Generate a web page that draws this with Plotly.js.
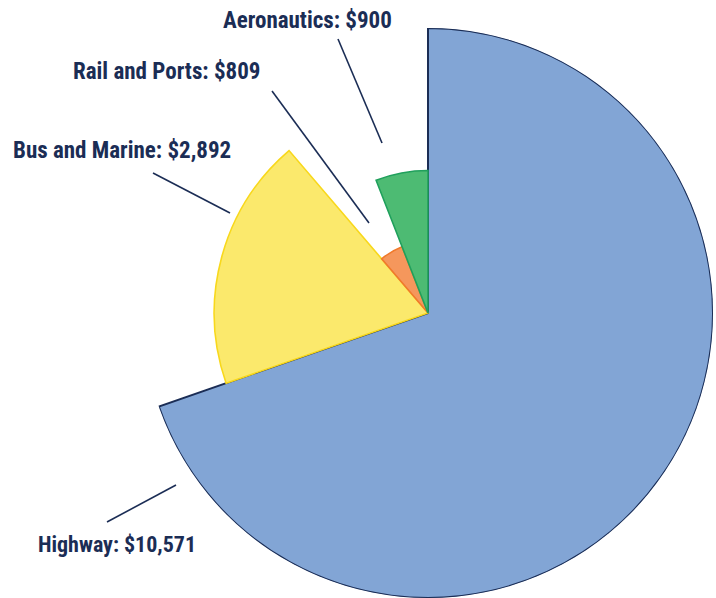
<!DOCTYPE html>
<html>
<head>
<meta charset="utf-8">
<script src="https://cdn.plot.ly/plotly-3.0.1.min.js"></script>
<style>html,body{margin:0;padding:0;background:#fff;}#chart{width:716px;height:598px;}</style>
</head>
<body>
<div id="chart"></div>
<script>
// Data
const categories = ["Highway", "Bus and Marine", "Rail and Ports", "Aeronautics"];
const values = [10571, 2892, 809, 900];
const valueLabels = ["$10,571", "$2,892", "$809", "$900"];
const radius = [1.0, 0.75, 0.25, 0.5];
const fillColors = ["#82A5D5", "#FBE96C", "#F5975C", "#4DBB73"];
const lineColors = ["#1B2D55", "#F8D81C", "#F07A2C", "#20A05C"];

const total = values.reduce((a, b) => a + b, 0);
const widths = values.map(v => v / total * 360);
const thetas = [];
let acc = 0;
widths.forEach(w => { thetas.push(acc + w / 2); acc += w; });

const W = 716, H = 598;
const px = x => x / W;
const py = y => 1 - y / H;

const fontFamily = "Liberation Sans Narrow, Roboto Condensed, Arial Narrow, sans-serif";
const fontSizes = [22, 23, 23, 23];

// label positions (pixels) and leader lines
const labelPos = [[36, 544], [11, 150], [71, 71], [221, 21]];
const leaders = [[[107, 522], [176, 485]], [[153, 173], [230, 213]], [[272, 91], [369, 223]], [[338, 39], [382, 143]]];

const annotations = categories.map((c, i) => ({
  xref: "paper", yref: "paper", x: px(labelPos[i][0]), y: py(labelPos[i][1]),
  xanchor: "left", yanchor: "middle", showarrow: false,
  text: c + ": " + valueLabels[i],
  font: {family: fontFamily, size: fontSizes[i], color: "#1B2D55", weight: 700}
}));
const shapes = leaders.map(l => ({
  type: "line", xref: "paper", yref: "paper",
  x0: px(l[0][0]), y0: py(l[0][1]), x1: px(l[1][0]), y1: py(l[1][1]),
  line: {color: "#1B2D55", width: 1.6}
}));

const trace = {
  type: "barpolar",
  r: radius,
  theta: thetas,
  width: widths,
  text: categories,
  marker: {color: fillColors, line: {color: lineColors, width: [2, 1.6, 1.6, 1.6]}},
  hoverinfo: "text"
};

const layout = {
  width: W, height: H,
  margin: {l: 0, r: 0, t: 0, b: 0},
  paper_bgcolor: "#ffffff",
  showlegend: false,
  polar: {
    domain: {x: [143 / W, 713 / W], y: [0, 1 - 28 / H]},
    bgcolor: "rgba(0,0,0,0)",
    radialaxis: {range: [0, 1], visible: false, showgrid: false},
    angularaxis: {rotation: 90, direction: "clockwise", visible: false, showgrid: false, showline: false, ticks: ""}
  },
  annotations: annotations,
  shapes: shapes
};

Plotly.newPlot("chart", [trace], layout, {displayModeBar: false, staticPlot: true});
</script>
</body>
</html>
